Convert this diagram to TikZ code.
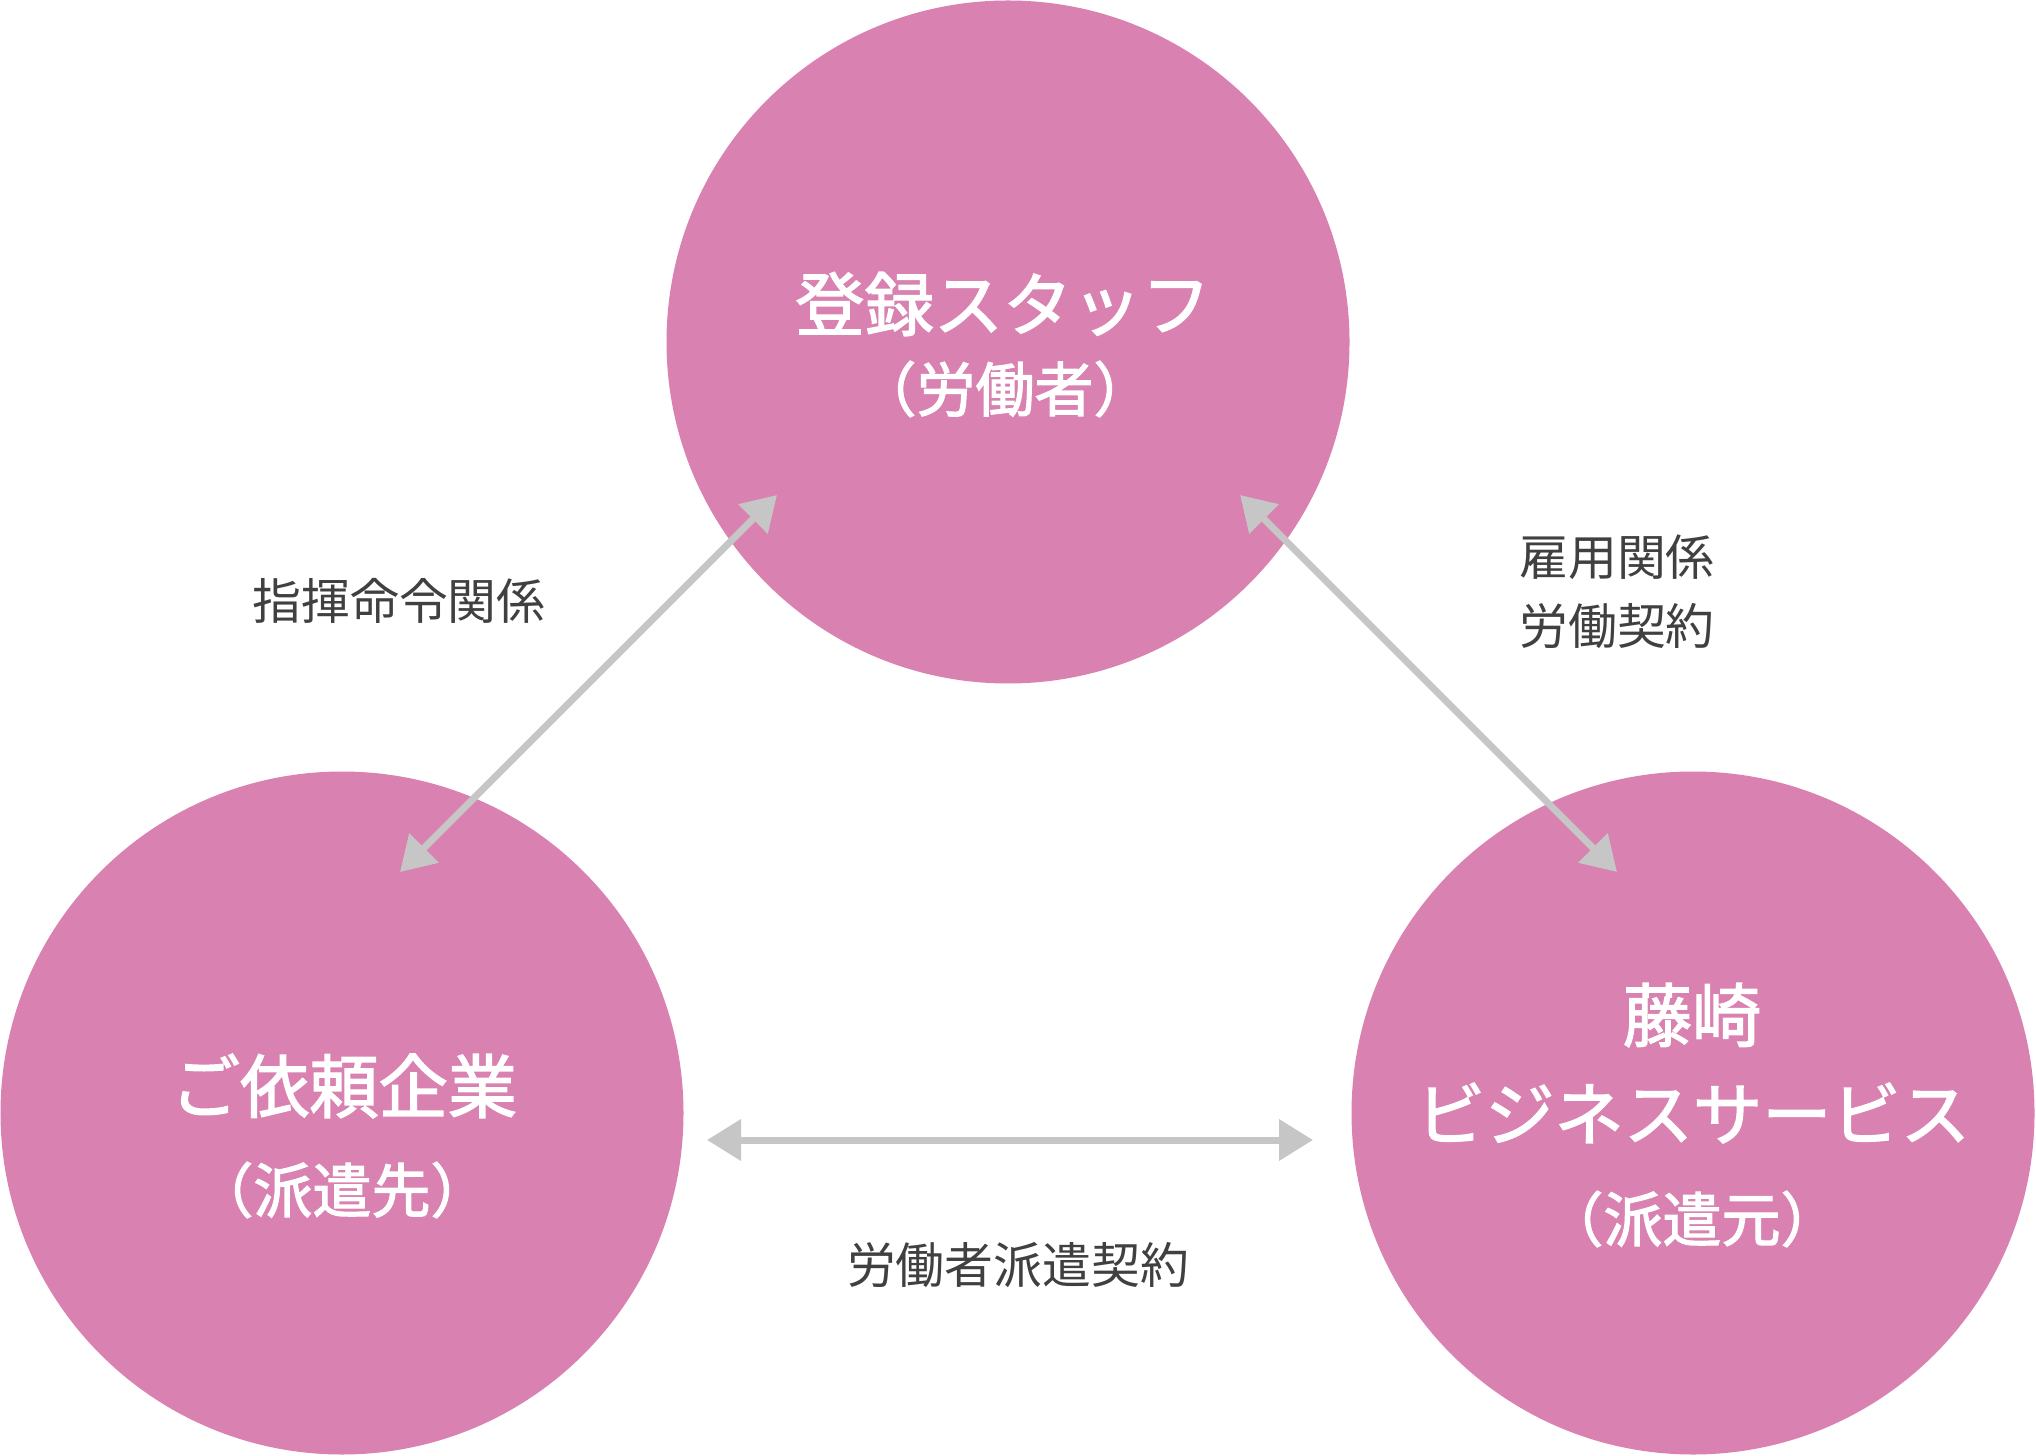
\documentclass[tikz,border=0pt]{standalone}
\usepackage{fontspec}
\newfontfamily\jpfont{Noto Sans CJK JP}
\newfontfamily\jpmedium[FakeBold=2]{Noto Sans CJK JP}
\usetikzlibrary{arrows.meta}
\definecolor{circpink}{RGB}{217,129,176}
\definecolor{arrowgray}{RGB}{198,198,198}
\definecolor{labelgray}{RGB}{64,64,64}
\begin{document}
\begin{tikzpicture}[
  party/.style={circle, fill=circpink, draw=none, minimum size=6.83cm, inner sep=0pt},
  bigtext/.style={text=white, font=\jpmedium\fontsize{19.7}{24}\selectfont, inner sep=0pt},
  subtext/.style={text=white, font=\jpmedium\fontsize{16.8}{20}\selectfont, inner sep=0pt},
  relation/.style={text=labelgray, align=center, font=\jpfont\fontsize{13.9}{19.6}\selectfont, inner sep=0pt},
  arrow/.style={{Triangle[length=3.4mm,width=4mm]}-{Triangle[length=3.4mm,width=4mm]}, line width=0.7mm, draw=arrowgray}
]
\useasboundingbox (0,0) rectangle (20.36,-14.56);
\node[party] (staff) at (10.08,-3.42) {};
\node[party] (client) at (3.42,-11.13) {};
\node[party] (agency) at (16.93,-11.13) {};
\node[bigtext] (staffname) at (10.03,-3.04) {登録スタッフ};
\node[subtext] (staffrole) at (10.05,-3.89) {（労働者）};
\node[bigtext] (clientname) at (3.44,-10.86) {ご依頼企業};
\node[subtext] (clientrole) at (3.42,-11.90) {（派遣先）};
\node[bigtext] (agencyname) at (16.92,-10.15) {藤崎};
\node[bigtext] (agencyname2) at (16.93,-11.13) {ビジネスサービス};
\node[subtext] (agencyrole) at (16.92,-12.19) {（派遣元）};
\coordinate (cmdtop) at (7.77,-4.95);
\coordinate (cmdbot) at (4.00,-8.72);
\coordinate (emptop) at (12.40,-4.95);
\coordinate (empbot) at (16.17,-8.72);
\coordinate (displ) at (7.07,-11.40);
\coordinate (dispr) at (13.13,-11.40);
\draw[arrow] (cmdtop) -- (cmdbot);
\draw[arrow] (emptop) -- (empbot);
\draw[arrow] (displ) -- (dispr);
\node[relation] (command) at (3.99,-6.01) {指揮命令関係};
\node[relation] (employ) at (16.17,-5.92) {雇用関係\\労働契約};
\node[relation] (dispatch) at (10.18,-12.65) {労働者派遣契約};
\end{tikzpicture}
\end{document}
